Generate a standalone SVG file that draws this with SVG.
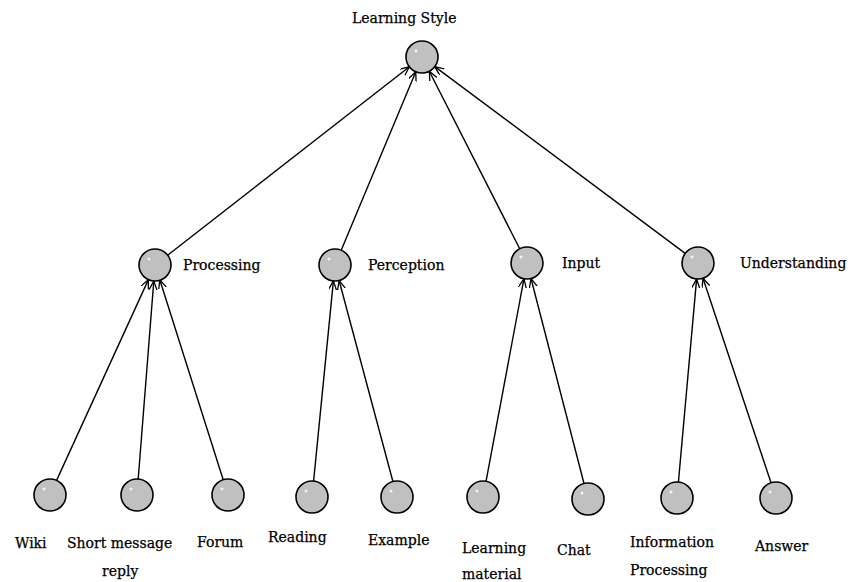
<svg xmlns="http://www.w3.org/2000/svg" width="855" height="582" viewBox="0 0 855 582">
<style>
.n{fill:#c0c0c0;stroke:#000;stroke-width:1.6}
.h{fill:#fff;opacity:0.8}
.e{stroke:#000;stroke-width:1.4;fill:none;marker-end:url(#arr)}
text{font-family:"DejaVu Serif","Liberation Serif",serif;font-size:14px;fill:#000;stroke:#000;stroke-width:0.25}
</style>
<defs>
<marker id="arr" markerUnits="userSpaceOnUse" markerWidth="11" markerHeight="10" refX="9" refY="4" orient="auto">
<path d="M0,0 L9,4 L0,8" fill="none" stroke="#000" stroke-width="1.3"/>
</marker>
</defs>
<rect width="855" height="582" fill="#fff"/>
<g id="connectors">
<line class="e" x1="167.6" y1="255.2" x2="409.4" y2="66.8"/>
<line class="e" x1="341.2" y1="250.2" x2="415.8" y2="71.8"/>
<line class="e" x1="519.7" y1="248.7" x2="429.3" y2="71.3"/>
<line class="e" x1="685.2" y1="253.4" x2="434.8" y2="66.6"/>
<line class="e" x1="56.6" y1="480.4" x2="148.4" y2="279.6"/>
<line class="e" x1="138.2" y1="479" x2="153.8" y2="281"/>
<line class="e" x1="223.2" y1="479.8" x2="159.8" y2="279.8"/>
<line class="e" x1="313.6" y1="481.1" x2="333.4" y2="280.9"/>
<line class="e" x1="392.9" y1="481.5" x2="339.1" y2="280.5"/>
<line class="e" x1="486" y1="481.3" x2="524" y2="278.7"/>
<line class="e" x1="584" y1="483.5" x2="531" y2="278.5"/>
<line class="e" x1="678.4" y1="482.1" x2="696.6" y2="279.1"/>
<line class="e" x1="771" y1="482.8" x2="703" y2="278.2"/>
</g>
<g id="learning-style"><circle class="n" cx="422" cy="57" r="16"/><circle class="h" cx="416" cy="51" r="1.5"/><text x="352" y="23">Learning Style</text></g>
<g id="processing"><circle class="n" cx="155" cy="265" r="16"/><circle class="h" cx="149" cy="259" r="1.5"/><text x="183" y="270">Processing</text></g>
<g id="perception"><circle class="n" cx="335" cy="265" r="16"/><circle class="h" cx="329" cy="259" r="1.5"/><text x="368" y="270">Perception</text></g>
<g id="input"><circle class="n" cx="527" cy="263" r="16"/><circle class="h" cx="521" cy="257" r="1.5"/><text x="562" y="268">Input</text></g>
<g id="understanding"><circle class="n" cx="698" cy="263" r="16"/><circle class="h" cx="692" cy="257" r="1.5"/><text x="740" y="268">Understanding</text></g>
<g id="wiki"><circle class="n" cx="50" cy="495" r="16"/><circle class="h" cx="44" cy="489" r="1.5"/><text x="15" y="548">Wiki</text></g>
<g id="short-message-reply"><circle class="n" cx="137" cy="495" r="16"/><circle class="h" cx="131" cy="489" r="1.5"/><text x="67" y="548">Short message</text><text x="102" y="576">reply</text></g>
<g id="forum"><circle class="n" cx="228" cy="495" r="16"/><circle class="h" cx="222" cy="489" r="1.5"/><text x="197" y="547">Forum</text></g>
<g id="reading"><circle class="n" cx="312" cy="497" r="16"/><circle class="h" cx="306" cy="491" r="1.5"/><text x="268" y="542">Reading</text></g>
<g id="example"><circle class="n" cx="397" cy="497" r="16"/><circle class="h" cx="391" cy="491" r="1.5"/><text x="368" y="545">Example</text></g>
<g id="learning-material"><circle class="n" cx="483" cy="497" r="16"/><circle class="h" cx="477" cy="491" r="1.5"/><text x="462" y="553">Learning</text><text x="462" y="579">material</text></g>
<g id="chat"><circle class="n" cx="588" cy="499" r="16"/><circle class="h" cx="582" cy="493" r="1.5"/><text x="557" y="555">Chat</text></g>
<g id="information-processing"><circle class="n" cx="677" cy="498" r="16"/><circle class="h" cx="671" cy="492" r="1.5"/><text x="630" y="547">Information</text><text x="630" y="575">Processing</text></g>
<g id="answer"><circle class="n" cx="776" cy="498" r="16"/><circle class="h" cx="770" cy="492" r="1.5"/><text x="755" y="551">Answer</text></g>
</svg>
